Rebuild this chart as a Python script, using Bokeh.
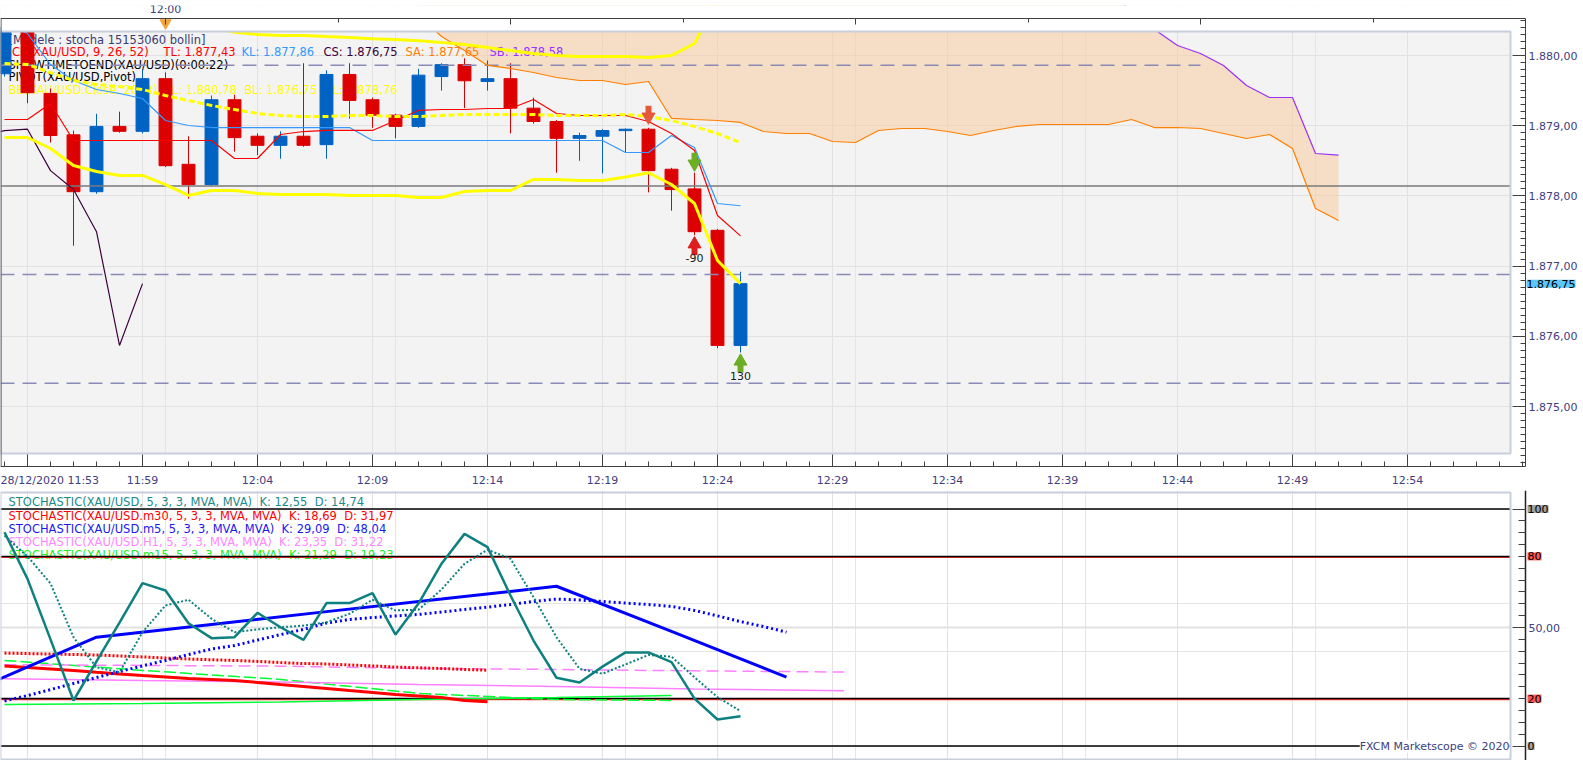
import numpy as np
from bokeh.plotting import figure
from bokeh.models import Range1d, FixedTicker, LinearAxis, Label, ColumnDataSource, Grid
from bokeh.layouts import column
from bokeh.embed import file_html
from bokeh.resources import INLINE
from bokeh.core.properties import value

FONT = "DejaVu Sans"
FS = "11px"
LFS = "11.5px"
SP2 = "\u00a0\u00a0"

# ---------------- price panel data (1-minute candles, minutes relative to 12:00) ----------------
MINUTES = list(range(-7, 26))
OPEN = [1879.74, 1880.40, 1879.46, 1878.87, 1878.06, 1878.99, 1878.92, 1879.67, 1878.45, 1878.16,
        1879.37, 1878.85, 1878.72, 1878.85, 1878.73, 1879.73, 1879.37, 1879.15, 1878.99, 1879.70,
        1879.87, 1879.63, 1879.67, 1879.25, 1879.06, 1878.82, 1878.85, 1878.93, 1878.95, 1878.38,
        1878.10, 1877.51, 1875.87]
HIGH = [1880.50, 1880.50, 1879.53, 1878.93, 1879.17, 1879.20, 1879.80, 1879.76, 1878.85, 1879.43,
        1879.44, 1878.89, 1878.92, 1879.89, 1879.79, 1879.89, 1879.40, 1879.17, 1879.81, 1879.89,
        1879.96, 1879.93, 1879.89, 1879.40, 1879.08, 1878.90, 1878.95, 1878.96, 1878.97, 1878.40,
        1878.33, 1877.53, 1876.92]
LOW = [1879.70, 1879.32, 1878.76, 1877.29, 1878.03, 1878.90, 1878.89, 1878.41, 1877.96, 1878.14,
       1878.63, 1878.58, 1878.53, 1878.70, 1878.53, 1879.10, 1878.97, 1878.82, 1878.97, 1879.50,
       1879.25, 1879.50, 1878.89, 1879.03, 1878.33, 1878.50, 1878.32, 1878.62, 1878.05, 1877.79,
       1877.44, 1875.83, 1875.77]
CLOSE = [1880.40, 1879.47, 1878.86, 1878.06, 1878.99, 1878.92, 1879.67, 1878.43, 1878.16, 1879.37,
         1878.83, 1878.72, 1878.85, 1878.72, 1879.73, 1879.36, 1879.15, 1878.99, 1879.72, 1879.87,
         1879.64, 1879.67, 1879.25, 1879.06, 1878.82, 1878.86, 1878.93, 1878.95, 1878.36, 1878.09,
         1877.49, 1875.87, 1876.75]

BB_UPPER = [1880.62, 1880.64, 1880.66, 1880.66, 1880.64, 1880.60, 1880.56, 1880.52, 1880.47, 1880.42,
            1880.33, 1880.30, 1880.285, 1880.285, 1880.27, 1880.256, 1880.24, 1880.228, 1880.21, 1880.185,
            1880.157, 1880.114, 1880.071, 1880.028, 1880.00, 1879.986, 1879.986, 1879.986, 1879.97, 1880.00,
            1880.171, 1880.80, 1880.78]
BB_MID = [1879.886, 1879.872, 1879.758, 1879.644, 1879.587, 1879.558, 1879.516, 1879.430, 1879.359, 1879.288,
          1879.231, 1879.174, 1879.145, 1879.131, 1879.131, 1879.145, 1879.145, 1879.131, 1879.131, 1879.145,
          1879.160, 1879.160, 1879.160, 1879.160, 1879.145, 1879.145, 1879.145, 1879.160, 1879.131, 1879.074,
          1878.989, 1878.889, 1878.76]
BB_LOWER = [1878.832, 1878.832, 1878.675, 1878.433, 1878.348, 1878.291, 1878.291, 1878.162, 1878.006, 1878.077,
            1878.077, 1878.034, 1878.020, 1878.020, 1878.020, 1878.006, 1878.006, 1878.006, 1877.977, 1877.977,
            1878.063, 1878.077, 1878.077, 1878.234, 1878.234, 1878.219, 1878.219, 1878.27, 1878.33, 1878.162,
            1877.892, 1877.080, 1876.75]
TENKAN = [1879.088, 1879.088, 1879.316, 1878.789, 1878.789, 1878.789, 1878.789, 1878.789, 1878.789, 1878.789,
          1878.533, 1878.533, 1878.875, 1878.917, 1878.932, 1878.932, 1878.932, 1879.074, 1879.217, 1879.231,
          1879.231, 1879.245, 1879.245, 1879.373, 1879.174, 1879.145, 1879.145, 1879.145, 1879.060, 1878.889,
          1878.647, 1877.721, 1877.43]
KIJUN = [1880.45, 1880.313, 1879.872, 1879.644, 1879.516, 1879.459, 1879.387, 1879.074, 1879.003, 1878.974,
         1878.974, 1878.974, 1878.974, 1878.974, 1878.974, 1878.974, 1878.789, 1878.789, 1878.789, 1878.789,
         1878.789, 1878.789, 1878.789, 1878.789, 1878.789, 1878.789, 1878.789, 1878.618, 1878.618, 1878.860,
         1878.689, 1877.892, 1877.86]
CHIKOU_SHIFT = 26
SENKOU_MINUTES = list(range(11, 52))
SENKOU_A = [1880.58, 1880.271, 1880.071, 1879.858, 1879.815, 1879.758, 1879.687, 1879.644, 1879.644, 1879.587,
            1879.630, 1879.103, 1879.088, 1879.074, 1879.046, 1878.917, 1878.889, 1878.889, 1878.775, 1878.761,
            1878.932, 1878.960, 1878.960, 1878.917, 1878.860, 1878.932, 1878.989, 1879.017, 1879.017, 1879.017,
            1879.017, 1879.088, 1878.974, 1878.974, 1878.960, 1878.889, 1878.818, 1878.875, 1878.675, 1877.821,
            1877.65]
SENKOU_B = [1880.95, 1880.95, 1880.95, 1880.95, 1880.95, 1880.95, 1880.95, 1880.95, 1880.95, 1880.95,
            1880.95, 1880.95, 1880.95, 1880.95, 1880.95, 1880.95, 1880.95, 1880.95, 1880.95, 1880.95,
            1880.95, 1880.95, 1880.95, 1880.95, 1880.95, 1880.95, 1880.95, 1880.95, 1880.95, 1880.95,
            1880.95, 1880.62, 1880.37, 1880.142, 1880.028, 1879.858, 1879.573, 1879.402, 1879.402, 1878.604,
            1878.58]

PIVOT_DASHED = [1879.86, 1876.88, 1875.33]
PIVOT_DASHED_END = [45, 60, 60]
PIVOT_MAIN = 1878.14

SIGNAL_MINUTE = [21, 23, 23, 25]
SIGNAL_TIP = [1879.07, 1878.40, 1877.37, 1875.70]
SIGNAL_DIR = ["down", "down", "up", "up"]
SIGNAL_COLOR = ["#e6583a", "#6cae24", "#dc1e1e", "#6cae24"]
SIGNAL_TEXT_MINUTE = [23, 25]
SIGNAL_TEXT_PRICE = [1877.11, 1875.44]
SIGNAL_TEXT = ["-90", "130"]

PRICE_TICKS = [1875, 1876, 1877, 1878, 1879, 1880]
TIME_TICKS = [-6, -1, 4, 9, 14, 19, 24, 29, 34, 39, 44, 49, 54]
TIME_LABELS = ["28/12/2020 11:53", "11:59", "12:04", "12:09", "12:14", "12:19", "12:24",
               "12:29", "12:34", "12:39", "12:44", "12:49", "12:54"]
TOP_TICKS = [0, 15, 30, 45]
TOP_MINOR = [-7.5, 7.5, 22.5, 37.5, 52.5]
TOP_LABEL = "12:00"

LEGEND_TOP = [
    ("[Modele : stocha 15153060 bollin]", 8, 39, "#3c3c70"),
    ("ICH(XAU/USD, 9, 26, 52)", 8, 51.5, "#ff0000"),
    ("TL: 1.877,43", 163, 51.5, "#ff0000"),
    ("KL: 1.877,86", 241, 51.5, "#3399ff"),
    ("CS: 1.876,75", 323, 51.5, "#3c003c"),
    ("SA: 1.877,65", 405, 51.5, "#ff8000"),
    ("SB: 1.878,58", 489, 51.5, "#9b30ff"),
    ("SHOWTIMETOEND(XAU/USD)(0:00:22)", 8, 64, "#000000"),
    ("PIVOT(XAU/USD,Pivot)", 8, 76.5, "#000000"),
    ("BB(XAU/USD.Close, 20, 2)" + SP2 + "TL: 1.880,78" + SP2 + "BL: 1.876,75" + SP2 + "AL: 1.878,76", 8, 89, "#ffff00"),
]

# ---------------- stochastic panel data ----------------
STO_MIN = list(range(-7, 26))
TEAL_K = [90.2, 70.5, 45.0, 19.2, 35.7, 52.1, 68.7, 65.6, 51.8, 45.5, 45.9, 56.2, 50.1, 44.8, 60.3, 60.3,
          64.5, 47.0, 60.1, 76.9, 89.5, 83.9, 63.5, 44.5, 28.8, 26.8, 33.5, 39.5, 39.5, 35.4, 20.0, 11.2, 12.55]
TEAL_D = [88.8, 80.0, 68.6, 45.9, 33.2, 31.1, 48.0, 59.3, 61.7, 53.7, 48.0, 49.2, 50.1, 50.8, 52.2, 55.8,
          61.7, 57.2, 57.5, 66.0, 76.9, 82.8, 79.0, 62.8, 45.9, 32.6, 30.5, 34.4, 38.4, 37.7, 29.0, 20.6, 14.74]
M5_K_MIN = [-8, -3, 2, 7, 12, 17, 22, 27]
M5_K = [24.9, 45.9, 51.3, 56.7, 62.0, 67.4, 48.4, 29.09]
M5_D_MIN = list(range(-7, 28))
M5_D = [19.0, 21.3, 23.8, 26.4, 28.9, 31.4, 33.8, 36.1, 38.6, 40.9, 42.4, 44.7, 47.0, 49.2, 51.9, 53.4,
        54.2, 54.9, 55.5, 56.5, 57.6, 58.6, 59.7, 61.0, 62.0, 61.6, 61.0, 60.3, 59.7, 58.9, 57.2, 54.9,
        52.5, 50.4, 48.04]
M30_MIN = list(range(-7, 15))
M30_K = [33.8, 33.1, 32.5, 31.9, 31.1, 30.4, 29.7, 29.1, 28.5, 28.1, 27.6, 26.8, 25.9, 25.1, 24.3, 23.4,
         22.6, 21.7, 21.1, 20.5, 19.2, 18.69]
M30_D = [39.2, 39.0, 38.8, 38.6, 38.4, 38.0, 37.6, 37.1, 36.7, 36.4, 36.1, 35.7, 35.2, 34.8, 34.6, 34.2,
         33.8, 33.3, 33.0, 32.7, 32.3, 31.97]
H1_MIN = [-7, -1, 5, 11, 17, 23, 29.5]
H1_K = [28.4, 27.6, 27.0, 25.9, 25.1, 24.1, 23.35]
H1_D = [34.3, 34.0, 33.7, 32.7, 32.3, 31.7, 31.22]
M15_MIN = [-7, -1, 5, 11, 17, 22]
M15_K = [17.5, 17.9, 18.6, 19.6, 20.5, 21.29]
M15_D = [36.1, 31.9, 28.1, 22.2, 19.6, 19.23]

STO_LEVELS = [100, 80, 20, 0]
STO_RED_LEVELS = [80, 20]
STO_LEVEL_LABELS = ["100", "80", "20", "0"]
STO_LEVEL_BG = ["#a0a0a0", "#ff5555", "#ff5555", "#a0a0a0"]

LEGEND_STO = [
    ("STOCHASTIC(XAU/USD, 5, 3, 3, MVA, MVA)" + SP2 + "K: 12,55" + SP2 + "D: 14,74", 501, "#1a8a8a"),
    ("STOCHASTIC(XAU/USD.m30, 5, 3, 3, MVA, MVA)" + SP2 + "K: 18,69" + SP2 + "D: 31,97", 515, "#ff0000"),
    ("STOCHASTIC(XAU/USD.m5, 5, 3, 3, MVA, MVA)" + SP2 + "K: 29,09" + SP2 + "D: 48,04", 528, "#1a1aee"),
    ("STOCHASTIC(XAU/USD.H1, 5, 3, 3, MVA, MVA)" + SP2 + "K: 23,35" + SP2 + "D: 31,22", 541, "#ff88ff"),
    ("STOCHASTIC(XAU/USD.m15, 5, 3, 3, MVA, MVA)" + SP2 + "K: 21,29" + SP2 + "D: 19,23", 554, "#22ee22"),
]


# ---------------- layout helpers (page pixels -> data coordinates) ----------------
def mx(px):
    return (px - 165.0) / 23.0


def py(pxy):
    return 1880.0 - (pxy - 55.0) / 70.2


def sv(pxy):
    return (745.5 - pxy) / 2.37


def fmt_price(v):
    s = f"{v:,.2f}"
    return s.replace(",", "X").replace(".", ",").replace("X", ".")


PX = 1.0 / 70.2
W = 1583
H1 = 490
H2 = 270
TOPB = 5
XL, XR, XP, XA = mx(0), mx(W), mx(1510), mx(1525)
AX_COLOR = "#404080"
BOX = "#404040"


def style_axis(ax):
    ax.major_tick_line_color = BOX
    ax.minor_tick_line_color = BOX
    ax.major_label_text_font = FONT
    ax.major_label_text_font_size = FS
    ax.major_label_text_color = AX_COLOR
    ax.major_tick_out = 0
    ax.minor_tick_out = 0


# =============================== price figure ===============================
p1 = figure(width=W, height=H1, x_range=Range1d(XL, XR), y_range=Range1d(py(H1), py(TOPB)),
            output_backend="svg", toolbar_location=None, x_axis_location=None, y_axis_location=None,
            min_border=0, min_border_top=TOPB, background_fill_color="#f3f3f3", border_fill_color="white",
            outline_line_color=None)

p1.add_layout(Grid(dimension=0, ticker=FixedTicker(ticks=TIME_TICKS), grid_line_color="#e2e2e2"))
p1.add_layout(Grid(dimension=1, ticker=FixedTicker(ticks=PRICE_TICKS), grid_line_color="#e2e2e2"))

# Ichimoku cloud
p1.varea(x=SENKOU_MINUTES, y1=SENKOU_A, y2=SENKOU_B, fill_color="#f8c89a", fill_alpha=0.5)

# legend texts (under the glyphs)
leg = ColumnDataSource(dict(x=[mx(r[1]) for r in LEGEND_TOP], y=[py(r[2]) for r in LEGEND_TOP],
                            t=[r[0] for r in LEGEND_TOP], c=[r[3] for r in LEGEND_TOP]))
p1.text(x="x", y="y", text="t", text_color="c", source=leg, text_font=value(FONT),
        text_font_size=value(LFS), text_baseline="middle", text_align="left")

# candles
cs = ColumnDataSource(dict(
    m=MINUTES, h=HIGH, l=LOW,
    top=[max(o, c) for o, c in zip(OPEN, CLOSE)],
    bot=[min(o, c) for o, c in zip(OPEN, CLOSE)],
    col=["#0062c2" if c >= o else "#dc0000" for o, c in zip(OPEN, CLOSE)]))
p1.segment(x0="m", y0="h", x1="m", y1="l", line_color="col", line_width=1, source=cs)
p1.vbar(x="m", width=0.56, top="top", bottom="bot", fill_color="col", line_color="col", source=cs)

# pivot lines
p1.segment(x0=[XL] * len(PIVOT_DASHED), x1=PIVOT_DASHED_END, y0=PIVOT_DASHED, y1=PIVOT_DASHED,
           line_color="#8a8ab6", line_width=1.5, line_dash="14 8")
p1.segment(x0=[XL], x1=[XR], y0=[PIVOT_MAIN], y1=[PIVOT_MAIN], line_color="#7a7a7a", line_width=1.5)

# ichimoku lines
p1.line(SENKOU_MINUTES, SENKOU_A, line_color="#ff8000", line_width=1.2)
p1.line(SENKOU_MINUTES, SENKOU_B, line_color="#9b30ff", line_width=1.2)
p1.line(MINUTES, KIJUN, line_color="#3399ff", line_width=1.2)
p1.line(MINUTES, TENKAN, line_color="#ff0000", line_width=1.2)
chik_x = [m - CHIKOU_SHIFT for m in MINUTES if m - CHIKOU_SHIFT >= -8]
chik_y = [c for m, c in zip(MINUTES, CLOSE) if m - CHIKOU_SHIFT >= -8]
p1.line(chik_x, chik_y, line_color="#3c003c", line_width=1.2)

# bollinger bands
p1.line(MINUTES, BB_UPPER, line_color="#ffff00", line_width=3)
p1.line(MINUTES, BB_LOWER, line_color="#ffff00", line_width=3)
p1.line(MINUTES, BB_MID, line_color="#ffff00", line_width=3, line_dash="6 3")

# signal arrows
for m, tip, d, col in zip(SIGNAL_MINUTE, SIGNAL_TIP, SIGNAL_DIR, SIGNAL_COLOR):
    s = 1 if d == "down" else -1
    p1.segment(x0=[m], x1=[m], y0=[tip + s * 6 * PX], y1=[tip + s * 15 * PX], line_color=col, line_width=6)
    p1.scatter(x=[m], y=[tip + s * 4 * PX], marker="inverted_triangle" if d == "down" else "triangle",
               size=13, fill_color=col, line_color=col)
p1.text(x=SIGNAL_TEXT_MINUTE, y=SIGNAL_TEXT_PRICE, text=SIGNAL_TEXT, text_color="#202020",
        text_font=value(FONT), text_font_size=value(FS), text_align="center", text_baseline="middle")

# white margins around the grey panel (extended past the canvas), panel border and axis box
p1.quad(left=[mx(-20), mx(-20), XP], right=[mx(W + 20), mx(W + 20), mx(W + 20)],
        bottom=[py(31), py(H1 + 20), py(H1 + 20)], top=[py(-40), py(453), py(-40)],
        fill_color="white", line_color=None)
p1.quad(left=[XL], right=[XP], bottom=[py(453)], top=[py(31)], fill_color=None,
        line_color="#c8d0dc", line_width=2)
p1.segment(x0=[XL, XA, XL, mx(0.5)], x1=[XA, XA, XA, mx(0.5)],
           y0=[py(18), py(18), py(466), py(18)], y1=[py(18), py(466), py(466), py(466)],
           line_color=BOX, line_width=1)
p1.scatter(x=[TOP_TICKS[0]], y=[py(22.5)], marker="inverted_triangle", size=11,
           fill_color="#f2a23a", line_color="#f2a23a")

# axes (placed at fixed locations on the axis box)
price_minor = [round(v, 1) for v in np.arange(1874.2, 1880.55, 0.1)]
ax_r = LinearAxis(ticker=FixedTicker(ticks=PRICE_TICKS, minor_ticks=price_minor),
                  major_label_overrides={t: fmt_price(t) for t in PRICE_TICKS}, fixed_location=XA)
style_axis(ax_r)
ax_r.axis_line_color = None
ax_r.major_tick_in = 13
ax_r.minor_tick_in = 5
ax_r.major_label_standoff = 3
p1.add_layout(ax_r, "right")

ax_b = LinearAxis(ticker=FixedTicker(ticks=TIME_TICKS, minor_ticks=list(range(-7, 60))),
                  major_label_overrides={t: (lab if i > 0 else "") for i, (t, lab) in
                                         enumerate(zip(TIME_TICKS, TIME_LABELS))},
                  fixed_location=py(466))
style_axis(ax_b)
ax_b.axis_line_color = None
ax_b.major_tick_in = 12
ax_b.minor_tick_in = 5
ax_b.major_label_standoff = 7
p1.add_layout(ax_b, "below")

ax_t = LinearAxis(ticker=FixedTicker(ticks=TOP_TICKS, minor_ticks=TOP_MINOR),
                  major_label_overrides={t: (TOP_LABEL if t == 0 else "") for t in TOP_TICKS},
                  fixed_location=py(18))
style_axis(ax_t)
ax_t.axis_line_color = None
ax_t.major_tick_in = 6
ax_t.minor_tick_in = 4
ax_t.major_label_standoff = 3
p1.add_layout(ax_t, "above")

p1.add_layout(Label(x=mx(0), y=py(480), text=TIME_LABELS[0], text_font=FONT, text_font_size=FS,
                    text_color=AX_COLOR, text_align="left", text_baseline="middle"))
p1.add_layout(Label(x=mx(1526), y=CLOSE[-1], text=fmt_price(CLOSE[-1]), text_font=FONT, text_font_size=FS,
                    text_color="black", text_align="left", text_baseline="middle",
                    background_fill_color="#5cc8f8"))

# =============================== stochastic figure ===============================
p2 = figure(width=W, height=H2, x_range=Range1d(XL, XR), y_range=Range1d(sv(H1 + H2), sv(H1)),
            output_backend="svg", toolbar_location=None, x_axis_location=None, y_axis_location=None,
            min_border=0, background_fill_color="white", border_fill_color="white", outline_line_color=None)
p2.add_layout(Grid(dimension=0, ticker=FixedTicker(ticks=TIME_TICKS), grid_line_color="#e2e2e2"))
p2.add_layout(Grid(dimension=1, ticker=FixedTicker(ticks=[50]), grid_line_color="#e2e2e2", grid_line_width=2))

sleg = ColumnDataSource(dict(x=[mx(8)] * len(LEGEND_STO), y=[sv(r[1]) for r in LEGEND_STO],
                             t=[r[0] for r in LEGEND_STO], c=[r[2] for r in LEGEND_STO]))
p2.text(x="x", y="y", text="t", text_color="c", source=sleg, text_font=value(FONT),
        text_font_size=value(LFS), text_baseline="middle", text_align="left")

p2.segment(x0=[XL] * 2, x1=[XP] * 2, y0=[v - 0.45 for v in STO_RED_LEVELS], y1=[v - 0.45 for v in STO_RED_LEVELS],
           line_color="#ff3030", line_width=1.2)
p2.segment(x0=[XL] * 4, x1=[XP] * 4, y0=STO_LEVELS, y1=STO_LEVELS, line_color="#000000", line_width=1.5)

p2.line(M15_MIN, M15_K, line_color="#00ff33", line_width=1.5)
p2.line(M15_MIN, M15_D, line_color="#00ff33", line_width=1.5, line_dash="12 4")
p2.line(H1_MIN, H1_K, line_color="#ff80ff", line_width=1.5)
p2.line(H1_MIN, H1_D, line_color="#ff80ff", line_width=1.5, line_dash="12 6")
p2.line(M30_MIN, M30_K, line_color="#ff0000", line_width=3)
p2.line(M30_MIN, M30_D, line_color="#ff0000", line_width=3, line_dash="2 2")
p2.line(M5_K_MIN, M5_K, line_color="#0000ff", line_width=3)
p2.line(M5_D_MIN, M5_D, line_color="#0000ff", line_width=3, line_dash="2 3")
p2.line(STO_MIN, TEAL_D, line_color="#0f8080", line_width=2, line_dash="2 2")
p2.line(STO_MIN, TEAL_K, line_color="#0f8080", line_width=2.5)

p2.quad(left=[XP], right=[mx(W + 20)], bottom=[sv(H1 + H2 + 20)], top=[sv(H1 - 20)],
        fill_color="white", line_color=None)
p2.quad(left=[XL], right=[XP], bottom=[sv(759)], top=[sv(492)], fill_color=None, line_color="#c8d0dc", line_width=2)

ax2 = LinearAxis(ticker=FixedTicker(ticks=[0, 50, 100], minor_ticks=[v for v in range(5, 100, 5) if v != 50]),
                 major_label_overrides={0: "", 50: "50,00", 100: ""}, fixed_location=XA)
style_axis(ax2)
ax2.axis_line_color = "#202020"
ax2.axis_line_width = 1.5
ax2.major_tick_in = 13
ax2.minor_tick_in = 7
ax2.major_label_standoff = 3
p2.add_layout(ax2, "right")

for lab, lev, bg in zip(STO_LEVEL_LABELS, STO_LEVELS, STO_LEVEL_BG):
    p2.add_layout(Label(x=mx(1527), y=lev, text=lab, text_font=FONT, text_font_size=FS, text_color="black",
                        text_align="left", text_baseline="middle", background_fill_color=bg,
                        background_fill_alpha=1.0))
p2.add_layout(Label(x=mx(1509), y=0, text="FXCM Marketscope \u00a9 2020", text_font=FONT, text_font_size=FS,
                    text_color=AX_COLOR, text_align="right", text_baseline="middle",
                    background_fill_color="white"))

layout = column(p1, p2)
open("out.html", "w").write(file_html(layout, INLINE))
